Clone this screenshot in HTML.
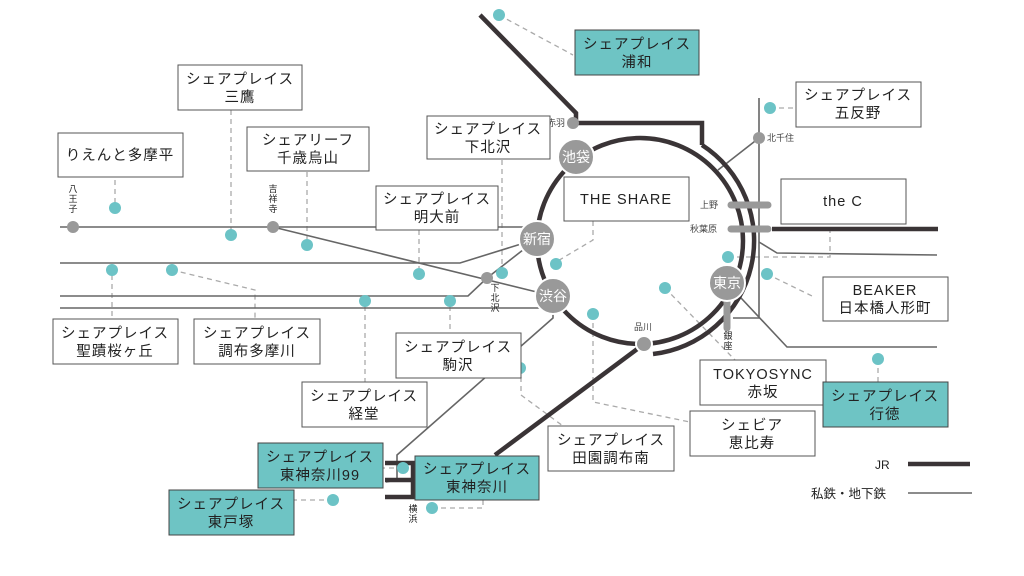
<!DOCTYPE html>
<html><head><meta charset="utf-8"><style>
body{margin:0;background:#fff}
svg{display:block}
text{font-family:"Liberation Sans","Noto Sans CJK JP",sans-serif;fill:#222}
.b{fill:#fff;stroke:#555;stroke-width:1}
.t{fill:#6ec4c4;stroke:#444;stroke-width:1}
.d{stroke:#aaa;stroke-width:1.3;stroke-dasharray:5,4;fill:none}
.p{stroke:#666;stroke-width:1.6;fill:none}
.j{stroke:#3a3436;stroke-width:4.5;fill:none}
.dot{fill:#6cc3c6}
.g{fill:#999}
.s{font-size:9px;fill:#444}
.l{font-size:14.5px;text-anchor:middle;letter-spacing:1px}
.st{font-size:14px;fill:#fff;text-anchor:middle}
</style></head><body>
<svg width="1024" height="576" viewBox="0 0 1024 576">
<g class="d">
<path d="M499 15L573 55"/><path d="M770 108H796"/><path d="M231 110V230"/><path d="M115 180V205"/>
<path d="M307 172V240"/><path d="M502 160V268"/><path d="M419 230V268"/><path d="M593 221V240L556 262"/>
<path d="M112 275V319"/><path d="M172 270L255 290V319"/><path d="M365 306V382"/><path d="M450 306V333"/>
<path d="M728 257H830V224"/><path d="M767 274L812 296"/><path d="M665 288L735 360"/><path d="M878 359V382"/>
<path d="M593 314V402L690 422"/><path d="M521 368V395L563 426"/><path d="M403 468H383"/>
<path d="M432 508H483V500"/><path d="M333 500H294"/>
</g>
<g class="p">
<path d="M60 227H530"/><path d="M273 227L553 296"/>
<path d="M60 263H460L537 239"/><path d="M60 296H468L487 278L537 239"/>
<path d="M60 308H553"/>
<path d="M553 306V318L397 455V480L386 482"/>
<path d="M759 98V318H733"/><path d="M759 138L718 170"/>
<path d="M759 242L777 253L937 255"/><path d="M727 283L787 347H937"/>
<path d="M908 493H972"/>
</g>
<g class="j">
<path d="M480 15L576 113V123H702V145"/>
<circle cx="640" cy="241" r="103"/>
<path d="M702 145A114 114 0 0 1 653 354"/>
<path d="M644 344L495 455"/>
<path d="M385 463H413V497H385M385 480H413"/>
<path d="M772 229H938"/>
<path d="M908 464H970"/>
</g>
<g stroke="#999" stroke-width="7" stroke-linecap="round"><path d="M731 205H768M731 229H768M727 300V328"/></g>
<g class="g" stroke="#fff" stroke-width="2">
<circle cx="576" cy="157" r="18"/><circle cx="537" cy="239" r="18"/><circle cx="553" cy="296" r="18"/><circle cx="727" cy="283" r="18"/>
<circle cx="644" cy="344" r="8"/>
</g>
<g class="g"><circle cx="573" cy="123" r="6"/><circle cx="759" cy="138" r="6"/><circle cx="73" cy="227" r="6"/><circle cx="273" cy="227" r="6"/><circle cx="487" cy="278" r="6"/></g>
<text class="st" x="576" y="162">池袋</text><text class="st" x="537" y="244">新宿</text><text class="st" x="553" y="301">渋谷</text><text class="st" x="727" y="288">東京</text>
<text class="s" x="547" y="126">赤羽</text><text class="s" x="767" y="141">北千住</text><text class="s" x="700" y="208">上野</text><text class="s" x="690" y="232">秋葉原</text><text class="s" x="634" y="330">品川</text>
<g class="s" text-anchor="middle"><text x="73" y="192">八</text><text x="73" y="202">王</text><text x="73" y="212">子</text>
<text x="273" y="192">吉</text><text x="273" y="202">祥</text><text x="273" y="212">寺</text>
<text x="495" y="291">下</text><text x="495" y="301">北</text><text x="495" y="311">沢</text>
<text x="728" y="339">銀</text><text x="728" y="349">座</text>
<text x="413" y="512">横</text><text x="413" y="522">浜</text></g>
<g class="dot">
<circle cx="499" cy="15" r="6"/><circle cx="770" cy="108" r="6"/><circle cx="115" cy="208" r="6"/><circle cx="231" cy="235" r="6"/><circle cx="307" cy="245" r="6"/><circle cx="112" cy="270" r="6"/><circle cx="172" cy="270" r="6"/><circle cx="419" cy="274" r="6"/><circle cx="450" cy="301" r="6"/><circle cx="365" cy="301" r="6"/><circle cx="502" cy="273" r="6"/><circle cx="556" cy="264" r="6"/><circle cx="593" cy="314" r="6"/><circle cx="665" cy="288" r="6"/><circle cx="728" cy="257" r="6"/><circle cx="767" cy="274" r="6"/><circle cx="878" cy="359" r="6"/><circle cx="520" cy="368" r="6"/><circle cx="403" cy="468" r="6"/><circle cx="432" cy="508" r="6"/><circle cx="333" cy="500" r="6"/>
</g>
<g>
<rect class="t" x="575" y="30" width="124" height="45"/><text class="l" x="637" y="49">シェアプレイス</text><text class="l" x="637" y="67">浦和</text>
<rect class="b" x="178" y="65" width="124" height="45"/><text class="l" x="240" y="84">シェアプレイス</text><text class="l" x="240" y="102">三鷹</text>
<rect class="b" x="58" y="133" width="125" height="44"/><text class="l" x="120" y="160">りえんと多摩平</text>
<rect class="b" x="247" y="127" width="122" height="44"/><text class="l" x="308" y="145">シェアリーフ</text><text class="l" x="308" y="163">千歳烏山</text>
<rect class="b" x="427" y="116" width="123" height="43"/><text class="l" x="488" y="134">シェアプレイス</text><text class="l" x="488" y="152">下北沢</text>
<rect class="b" x="376" y="186" width="122" height="44"/><text class="l" x="437" y="204">シェアプレイス</text><text class="l" x="437" y="222">明大前</text>
<rect class="b" x="564" y="177" width="125" height="44"/><text class="l" x="626" y="204">THE SHARE</text>
<rect class="b" x="796" y="82" width="125" height="45"/><text class="l" x="858" y="100">シェアプレイス</text><text class="l" x="858" y="118">五反野</text>
<rect class="b" x="781" y="179" width="125" height="45"/><text class="l" x="843" y="206">the C</text>
<rect class="b" x="823" y="277" width="125" height="44"/><text class="l" x="885" y="295">BEAKER</text><text class="l" x="885" y="313">日本橋人形町</text>
<rect class="b" x="53" y="319" width="125" height="45"/><text class="l" x="115" y="338">シェアプレイス</text><text class="l" x="115" y="356">聖蹟桜ヶ丘</text>
<rect class="b" x="194" y="319" width="126" height="45"/><text class="l" x="257" y="338">シェアプレイス</text><text class="l" x="257" y="356">調布多摩川</text>
<rect class="b" x="396" y="333" width="125" height="45"/><text class="l" x="458" y="352">シェアプレイス</text><text class="l" x="458" y="370">駒沢</text>
<rect class="b" x="302" y="382" width="125" height="45"/><text class="l" x="364" y="401">シェアプレイス</text><text class="l" x="364" y="419">経堂</text>
<rect class="b" x="700" y="360" width="126" height="45"/><text class="l" x="763" y="379">TOKYOSYNC</text><text class="l" x="763" y="397">赤坂</text>
<rect class="t" x="823" y="382" width="125" height="45"/><text class="l" x="885" y="401">シェアプレイス</text><text class="l" x="885" y="419">行徳</text>
<rect class="b" x="690" y="411" width="125" height="45"/><text class="l" x="752" y="430">シェビア</text><text class="l" x="752" y="448">恵比寿</text>
<rect class="b" x="548" y="426" width="126" height="45"/><text class="l" x="611" y="445">シェアプレイス</text><text class="l" x="611" y="463">田園調布南</text>
<rect class="t" x="258" y="443" width="125" height="45"/><text class="l" x="320" y="462">シェアプレイス</text><text class="l" x="320" y="480">東神奈川99</text>
<rect class="t" x="415" y="456" width="124" height="44"/><text class="l" x="477" y="474">シェアプレイス</text><text class="l" x="477" y="492">東神奈川</text>
<rect class="t" x="169" y="490" width="125" height="45"/><text class="l" x="231" y="509">シェアプレイス</text><text class="l" x="231" y="527">東戸塚</text>
</g>
<text x="875" y="469" style="font-size:12px">JR</text>
<text x="811" y="498" style="font-size:12.5px">私鉄・地下鉄</text>
</svg>
</body></html>
